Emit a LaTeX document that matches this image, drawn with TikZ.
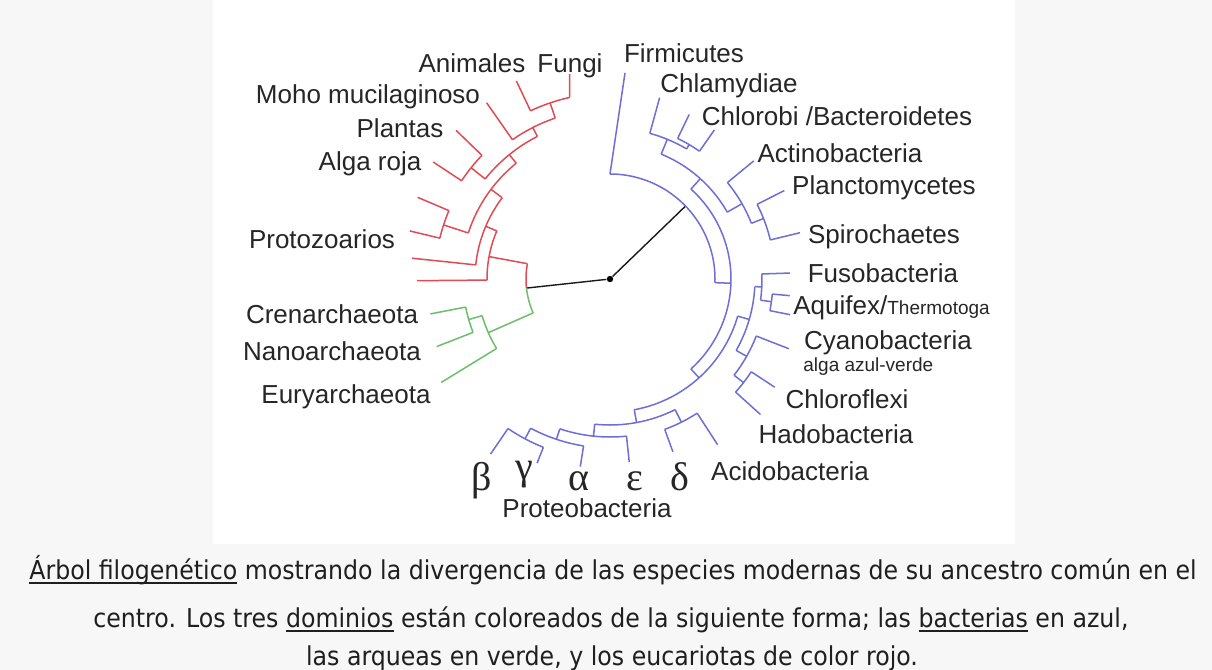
\documentclass[tikz,border=0pt]{standalone}
\usepackage{fontspec}
\newfontfamily\labelfont{Liberation Sans}
\newfontfamily\greekfont{Liberation Serif}
\newfontfamily\capfont[FakeStretch=0.91]{DejaVu Sans}

\definecolor{eukred}{RGB}{226,74,84}
\definecolor{arqgreen}{RGB}{108,190,108}
\definecolor{bacblue}{RGB}{110,110,212}
\definecolor{pagegray}{RGB}{247,247,247}
\definecolor{labelink}{RGB}{38,38,38}

% arc of one clade: radius, from angle, to angle
\newcommand{\cladearc}[3]{\draw (#2:#1) arc[start angle=#2, end angle=#3, radius=#1];}
% radial branch: angle, inner radius, outer radius
\newcommand{\radbranch}[3]{\draw (#1:#2) -- (#1:#3);}
% underlined word of the caption
\newcommand{\ulword}[1]{\setbox0=\hbox{#1}\rlap{\rule[-2.6pt]{\wd0}{0.9pt}}\box0\relax}

\begin{document}
\begin{tikzpicture}[x=0.5pt, y=0.5pt,
  lbl/.style={font=\labelfont\fontsize{13}{15}\selectfont, text=labelink, inner sep=0pt, anchor=base},
  lblsmall/.style={font=\labelfont\fontsize{9.5}{11}\selectfont, text=labelink, inner sep=0pt, anchor=base west},
  grk/.style={font=\greekfont\fontsize{20}{22}\selectfont, text=labelink, inner sep=0pt, anchor=base},
  capline/.style={font=\capfont\fontsize{13}{15}\selectfont, text=black!88, inner sep=0pt, anchor=base},
  euk/.style={eukred, line width=0.75pt},
  arq/.style={arqgreen, line width=0.75pt},
  bac/.style={bacblue, line width=0.75pt},
  rootline/.style={black!90, line width=0.7pt}
]
\useasboundingbox (0,0) rectangle (1212,-670);
\fill[pagegray] (0,0) rectangle (1212,-670);
\fill[white] (213,0) rectangle (1015,-544);

% tree round the common ancestor
\begin{scope}[shift={(610,-279)}]
\node[circle, fill=black, inner sep=0pt, minimum size=3.2pt] (root) at (0,0) {};
\coordinate (eanode) at (186.2:84);
\coordinate (bacnode) at (44:105);
\draw[rootline] (root) -- (eanode);
\draw[rootline] (root) -- (bacnode);

% eucariotas
\begin{scope}[euk]
\cladearc{84}{169.5}{186.2}
\radbranch{169.5}{84}{123}
\cladearc{123}{157}{180.5}
\radbranch{180.5}{123}{193}
\radbranch{157}{123}{135}
\cladearc{135}{143}{174}
\radbranch{174}{135}{199}
\radbranch{143}{135}{149}
\cladearc{149}{129}{162}
\radbranch{162}{149}{175}
\cladearc{175}{157}{166.5}
\radbranch{157}{175}{209}
\radbranch{166.5}{175}{206}
\radbranch{129}{149}{160}
\cladearc{160}{117}{141.3}
\radbranch{141.3}{160}{178}
\cladearc{178}{136}{146.5}
\radbranch{136}{178}{214}
\radbranch{146.5}{178}{212}
\radbranch{117}{160}{170}
\cladearc{170}{108.8}{125}
\radbranch{125}{170}{215}
\radbranch{108.8}{170}{186}
\cladearc{186}{102.5}{115.3}
\radbranch{115.3}{186}{219}
\draw (102.5:186) -- (-40.3,205);
\end{scope}

% arqueas
\begin{scope}[arq]
\cladearc{84}{186.2}{203.8}
\radbranch{203.8}{84}{133}
\cladearc{133}{196}{211.5}
\radbranch{211.5}{133}{198}
\radbranch{196}{133}{147}
\cladearc{147}{191}{201.3}
\radbranch{191}{147}{183}
\radbranch{201.3}{147}{186}
\end{scope}

% bacterias
\begin{scope}[bac]
\cladearc{105}{-2}{90}
\draw (90:105) -- (15,206);
\radbranch{-2}{105}{121}
\cladearc{121}{-48}{48}
% upper group
\radbranch{48}{121}{135}
\cladearc{135}{29.7}{67.7}
\radbranch{67.7}{135}{151}
\cladearc{151}{59.5}{74.7}
\radbranch{74.7}{151}{188}
\radbranch{59.5}{151}{156}
\cladearc{156}{55}{64.3}
\radbranch{64.3}{156}{182.5}
\radbranch{55}{156}{182}
\radbranch{29.7}{135}{152}
\cladearc{152}{21.5}{39.4}
\radbranch{39.4}{152}{186}
\radbranch{21.5}{152}{165}
\cladearc{165}{13.7}{26.9}
\radbranch{26.9}{165}{195.5}
\radbranch{13.7}{165}{195.5}
% right group
\radbranch{-48}{121}{133}
\cladearc{133}{-79.5}{-16.2}
\radbranch{-16.2}{133}{145}
\cladearc{145}{-29.5}{-3}
\radbranch{-3}{145}{152}
\cladearc{152}{-8}{1.9}
\radbranch{1.9}{152}{180}
\radbranch{-8}{152}{163}
\cladearc{163}{-11.2}{-5.3}
\radbranch{-5.3}{163}{180.5}
\radbranch{-11.2}{163}{183.6}
\radbranch{-29.5}{145}{157}
\cladearc{157}{-37.8}{-21.3}
\radbranch{-21.3}{157}{192}
\radbranch{-37.8}{157}{169}
\cladearc{169}{-42}{-33.3}
\radbranch{-33.3}{169}{197}
\radbranch{-42}{169}{202.5}
% lower group
\radbranch{-79.5}{133}{146}
\cladearc{146}{-96}{-63.5}
\radbranch{-63.5}{146}{160}
\cladearc{160}{-70}{-57}
\radbranch{-70}{160}{184}
\radbranch{-57}{160}{197.5}
\radbranch{-96}{146}{158}
\cladearc{158}{-108.5}{-84}
\radbranch{-84}{158}{184}
\radbranch{-108.5}{158}{169}
\cladearc{169}{-118}{-99}
\radbranch{-99}{169}{190}
\radbranch{-118}{169}{181}
\cladearc{181}{-124.3}{-111.6}
\radbranch{-124.3}{181}{212}
\radbranch{-111.6}{181}{198}
\end{scope}
\end{scope}

% labels, eucariotas
\node[lbl] (fungi) at (570,-72) {Fungi};
\node[lbl] (animales) at (472,-72) {Animales};
\node[lbl] (moho) at (368,-103) {Moho mucilaginoso};
\node[lbl] (plantas) at (400,-137) {Plantas};
\node[lbl] (algaroja) at (370,-170) {Alga roja};
\node[lbl] (protozoa) at (322,-248) {Protozoarios};
% labels, arqueas
\node[lbl] (cren) at (332,-323) {Crenarchaeota};
\node[lbl] (nano) at (332,-360) {Nanoarchaeota};
\node[lbl] (eury) at (346,-403) {Euryarchaeota};
% labels, bacterias
\node[lbl] (firmi) at (684,-62) {Firmicutes};
\node[lbl] (chlamy) at (729,-92) {Chlamydiae};
\node[lbl] (chlorobi) at (837,-125) {Chlorobi /Bacteroidetes};
\node[lbl] (actino) at (840,-162) {Actinobacteria};
\node[lbl] (plancto) at (884,-194) {Planctomycetes};
\node[lbl] (spiro) at (884,-243) {Spirochaetes};
\node[lbl] (fuso) at (883,-282) {Fusobacteria};
\node[lbl, anchor=base west] (aquifex) at (793,-314) {Aquifex/{\fontsize{9.5}{11}\selectfont Thermotoga}};
\node[lbl] (cyano) at (888,-349) {Cyanobacteria};
\node[lblsmall] (azulverde) at (803,-371) {alga azul-verde};
\node[lbl] (chloroflexi) at (847,-408) {Chloroflexi};
\node[lbl] (hado) at (836,-443) {Hadobacteria};
\node[lbl] (acido) at (790,-480) {Acidobacteria};
\node[grk] (beta) at (482,-490) {β};
\node[grk, anchor=center] (gamma) at (524,-475) {γ};
\node[grk] (alpha) at (579,-490) {α};
\node[grk] (epsilon) at (635,-490) {ε};
\node[grk] (delta) at (680,-490) {δ};
\node[lbl] (proteo) at (587,-517) {Proteobacteria};

% caption
\node[capline] (cap1) at (613,-579) {\ulword{Árbol filogenético} mostrando la divergencia de las especies modernas de su ancestro común en el};
\node[capline] (cap2) at (611,-627) {centro. Los tres \ulword{dominios} están coloreados de la siguiente forma; las \ulword{bacterias} en azul,};
\node[capline] (cap3) at (612,-665) {las arqueas en verde, y los eucariotas de color rojo.};
\end{tikzpicture}
\end{document}
